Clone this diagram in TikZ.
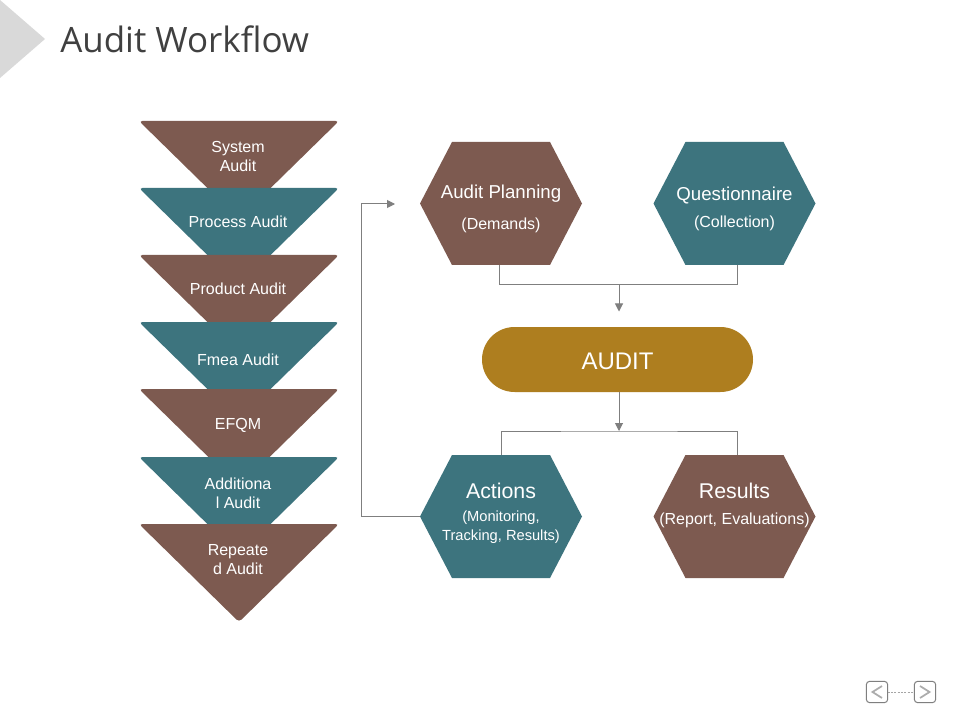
\documentclass[tikz,border=0pt]{standalone}
\usepackage{fontspec}
\setmainfont{Liberation Sans}
\newfontfamily\titlefont{Open Sans}
\usetikzlibrary{arrows.meta,calc}
\definecolor{brownc}{HTML}{7D5A50}
\definecolor{tealc}{HTML}{3D747E}
\definecolor{goldc}{HTML}{AE7E1F}
\definecolor{linec}{HTML}{7F7F7F}
\definecolor{titlec}{HTML}{404040}
\definecolor{greyc}{HTML}{D9D9D9}
\tikzset{
  hexbox/.style={inner sep=0pt,outer sep=0pt,minimum width=121.5pt,minimum height=92.25pt,
    text=white,align=center,
    path picture={\fill[#1] (path picture bounding box.west)
      -- ([xshift=24pt]path picture bounding box.north west)
      -- ([xshift=-24pt]path picture bounding box.north east)
      -- (path picture bounding box.east)
      -- ([xshift=-24pt]path picture bounding box.south east)
      -- ([xshift=24pt]path picture bounding box.south west) -- cycle;}},
  tribox/.style={inner sep=0pt,outer sep=0pt,minimum width=150pt,minimum height=73.5pt,
    path picture={\fill[#1,rounded corners=2.6pt] (path picture bounding box.north west)
      -- (path picture bounding box.north east)
      -- (path picture bounding box.south) -- cycle;}},
  trilabel/.style={text=white,align=center,font=\fontsize{12}{14.25}\selectfont,inner sep=0pt},
  hextitle/.style={text=white,inner sep=0pt},
  hexsub/.style={text=white,align=center,inner sep=0pt},
  conn/.style={draw=linec,line width=0.75pt},
  arrowconn/.style={conn,-{Triangle[length=6pt,width=6pt]}},
  navbox/.style={draw=linec,line width=0.75pt,rounded corners=2.5pt,minimum width=16pt,minimum height=16pt,inner sep=0pt,outer sep=0pt},
  navmark/.style={draw=linec!65,line width=1.3pt}
}
\begin{document}
\begin{tikzpicture}[x=0.75pt,y=-0.75pt]
\useasboundingbox (0,0) rectangle (960,720);
\fill[white] (0,0) rectangle (960,720);
\fill[greyc] (0,0) -- (45,39) -- (0,78) -- cycle;
\node[anchor=base west,text=titlec,inner sep=0pt,font=\titlefont\fontsize{26.2}{32}\selectfont] (title) at (60,53) {Audit Workflow};

% inverted triangles
\node[tribox=brownc] (t1) at (239,170) {};
\node[trilabel] (l1) at (238,156.5) {System\\Audit};
\node[tribox=tealc] (t2) at (239,237) {};
\node[trilabel] (l2) at (238,222) {Process Audit};
\node[tribox=brownc] (t3) at (239,304) {};
\node[trilabel] (l3) at (238,289) {Product Audit};
\node[tribox=tealc] (t4) at (239,371) {};
\node[trilabel] (l4) at (238,360) {Fmea Audit};
\node[tribox=brownc] (t5) at (239,438) {};
\node[trilabel] (l5) at (238,425.5) {EFQM};
\node[tribox=tealc] (t6) at (239,506) {};
\node[trilabel] (l6) at (238,493.5) {Additiona\\l Audit};
\node[tribox=brownc] (t7) at (239,573) {};
\node[trilabel] (l7) at (238,560) {Repeate\\d Audit};

% hexagons
\node[hexbox=brownc] (plan) at (501,203.5) {};
\node[hextitle,font=\fontsize{14}{16}\selectfont] (planA) at (501,193.5) {Audit Planning};
\node[hexsub,font=\fontsize{12}{14}\selectfont] (planB) at (501,225) {(Demands)};
\node[hexbox=tealc] (quest) at (734.5,203.5) {};
\node[hextitle,font=\fontsize{14}{16}\selectfont] (questA) at (734.5,195.5) {Questionnaire};
\node[hexsub,font=\fontsize{12}{14}\selectfont] (questB) at (734.5,223) {(Collection)};
\node[hexbox=tealc] (act) at (501,516.5) {};
\node[hextitle,font=\fontsize{16}{18}\selectfont] (actA) at (501,491) {Actions};
\node[hexsub,font=\fontsize{11}{14.25}\selectfont] (actB) at (501,527) {(Monitoring,\\Tracking, Results)};
\node[hexbox=brownc] (res) at (734.5,516.5) {};
\node[hextitle,font=\fontsize{16}{18}\selectfont] (resA) at (734.5,491) {Results};
\node[hexsub,font=\fontsize{12}{14}\selectfont] (resB) at (734.5,520) {(Report, Evaluations)};

% pill
\node[fill=goldc,rounded corners=24.4pt,minimum width=203.25pt,minimum height=48.75pt,inner sep=0pt,outer sep=0pt] (audit) at (617.5,359.5) {};
\node[text=white,inner sep=0pt,font=\fontsize{18}{22}\selectfont] (auditlabel) at (617.5,361.5) {AUDIT};

% connectors
\coordinate (jtop) at (619,284.5);
\coordinate (jtopend) at (619,311.5);
\coordinate (jbot) at (619,431);
\coordinate (loopend) at (395,204);
\draw[conn] ([xshift=-0.9pt]plan.south) |- (jtop) -| ([xshift=1.9pt]quest.south);
\draw[arrowconn] (jtop) -- (jtopend);
\draw[arrowconn] (jbot |- audit.south) -- (jbot);
\draw[conn] (act.north) |- (jbot) -| ([xshift=1.9pt]res.north);
\draw[arrowconn] (act.west) -- (361,516.5) |- (loopend);

% navigation
\node[navbox] (prev) at (877,692) {};
\node[navbox] (next) at (925,692) {};
\draw[linec!70,line width=0.5pt,dash pattern=on 1.5pt off 1pt] (prev) -- (next);
\draw[navmark] (882,686) -- (872.5,692) -- (882,698);
\draw[navmark] (920,686) -- (929.5,692) -- (920,698);
\end{tikzpicture}
\end{document}
